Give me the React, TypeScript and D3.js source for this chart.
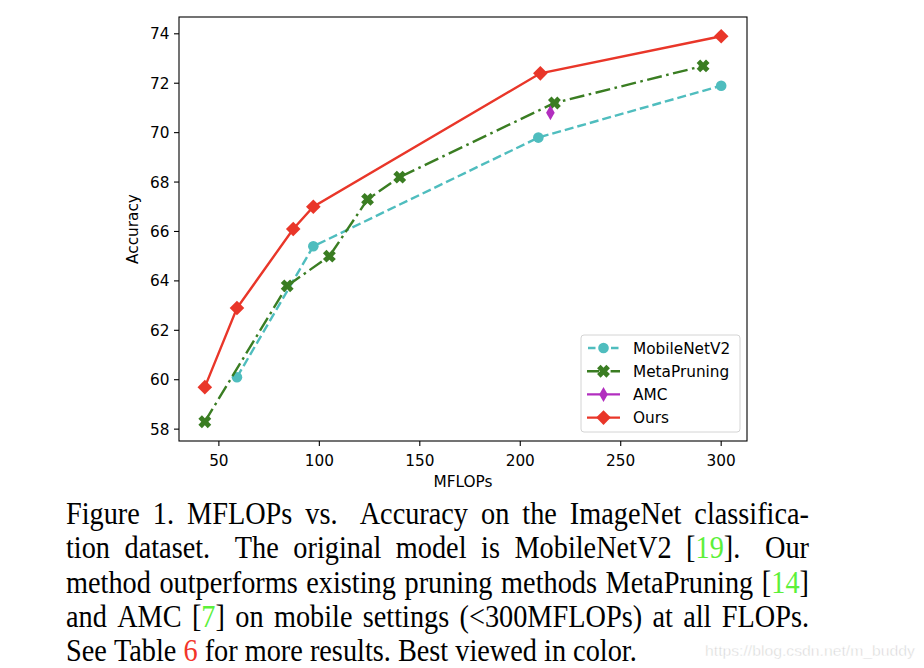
import React, { useLayoutEffect, useRef, useState } from "react";
import * as d3 from "d3";

// ---- data ----
const mobileX = [59, 97, 209, 300];
const mobileY = [60.1, 65.4, 69.8, 71.9];
const metaX = [43, 84, 105, 124, 140, 217, 291];
const metaY = [58.3, 63.8, 65.0, 67.3, 68.2, 71.2, 72.7];
const amcX = [215];
const amcY = [70.8];
const oursX = [43, 59, 87, 97, 210, 300];
const oursY = [59.7, 62.9, 66.1, 67.0, 72.4, 73.9];
const xTicks = [50, 100, 150, 200, 250, 300];
const yTicks = [58, 60, 62, 64, 66, 68, 70, 72, 74];
const seriesNames = ["MobileNetV2", "MetaPruning", "AMC", "Ours"];
const xLabel = "MFLOPs";
const yLabel = "Accuracy";
// {..} = green citation, |..| = red reference
const captionLines = [
  "Figure 1. MFLOPs vs.  Accuracy on the ImageNet classifica-",
  "tion dataset.  The original model is MobileNetV2 [{19}].  Our",
  "method outperforms existing pruning methods MetaPruning [{14}]",
  "and AMC [{7}] on mobile settings (<300MFLOPs) at all FLOPs.",
  "See Table |6| for more results. Best viewed in color.",
];
const watermark = "https://blog.csdn.net/m_buddy";

// ---- layout ----
const W = 924;
const H = 668;
const plot = { left: 179, right: 747, top: 17, bottom: 441 };
const colors = {
  mobile: "#4FBDBE",
  meta: "#3A7D22",
  amc: "#B22EBF",
  ours: "#E93629",
};
const tickFont = "DejaVu Sans, Verdana, sans-serif";
const tickSize = 15.3;
const capFont = "Liberation Serif, Times New Roman, serif";
const capLeft = 66;
const capRight = 809;
const capBase0 = 524;
const capStep = 34.3;
const capSize = 28.3;
const capStretch = 1.08;

function pad(ext: [number, number]): [number, number] {
  const r = ext[1] - ext[0];
  return [ext[0] - r * 0.05, ext[1] + r * 0.05];
}
const allX = [...mobileX, ...metaX, ...amcX, ...oursX];
const allY = [...mobileY, ...metaY, ...amcY, ...oursY];
const x = d3
  .scaleLinear()
  .domain(pad(d3.extent(allX) as [number, number]))
  .range([plot.left, plot.right]);
const y = d3
  .scaleLinear()
  .domain(pad(d3.extent(allY) as [number, number]))
  .range([plot.bottom, plot.top]);

function xMarker(cx: number, cy: number) {
  const a = 6.6;
  const w = 2.5;
  const pts: [number, number][] = [
    [-w, -a], [w, -a], [w, -w], [a, -w], [a, w], [w, w],
    [w, a], [-w, a], [-w, w], [-a, w], [-a, -w], [-w, -w],
  ];
  const c = Math.SQRT1_2;
  return (
    "M" +
    pts
      .map(([px, py]) => [cx + (px - py) * c, cy + (px + py) * c].map((v) => v.toFixed(2)).join(","))
      .join("L") +
    "Z"
  );
}
function diamond(cx: number, cy: number, hw: number, hh: number) {
  return `M${cx},${cy - hh}L${cx + hw},${cy}L${cx},${cy + hh}L${cx - hw},${cy}Z`;
}

type Seg = { t: string; c: string };
function parseWord(word: string): Seg[] {
  const segs: Seg[] = [];
  const re = /\{([^}]*)\}|\|([^|]*)\|/g;
  let last = 0;
  let m: RegExpExecArray | null;
  while ((m = re.exec(word))) {
    if (m.index > last) segs.push({ t: word.slice(last, m.index), c: "#000" });
    if (m[1] !== undefined) segs.push({ t: m[1], c: "#5CF03A" });
    else segs.push({ t: m[2], c: "#F2352A" });
    last = m.index + m[0].length;
  }
  if (last < word.length) segs.push({ t: word.slice(last), c: "#000" });
  return segs;
}

const parsedLines = captionLines.map((line) => {
  const words: Seg[][] = [];
  const gaps: number[] = [];
  const parts = line.split(/( +)/);
  parts.forEach((p) => {
    if (/^ +$/.test(p)) gaps.push(p.length > 1 ? 1.7 : 1);
    else if (p.length) words.push(parseWord(p));
  });
  return { words, gaps };
});

function Caption() {
  const refs = useRef<(SVGTextElement | null)[][]>([]);
  const [widths, setWidths] = useState<number[][] | null>(null);
  useLayoutEffect(() => {
    const measure = () => {
      const w = parsedLines.map((l, i) =>
        l.words.map((_, j) => {
          const el = refs.current[i]?.[j];
          return el ? el.getComputedTextLength() : 0;
        })
      );
      setWidths(w);
    };
    measure();
    if ((document as any).fonts?.ready) (document as any).fonts.ready.then(measure);
  }, []);
  return (
    <g fontFamily={capFont} fontSize={capSize}>
      {parsedLines.map((l, i) => {
        const last = i === parsedLines.length - 1;
        const ws = widths ? widths[i] : l.words.map((w) => w.map((s) => s.t).join("").length * 12);
        const total = ws.reduce((a, b) => a + b, 0);
        const gw = l.gaps.reduce((a, b) => a + b, 0);
        const unit = last ? capSize * 0.25 : (capRight - capLeft - total) / gw;
        let cx = capLeft;
        refs.current[i] = refs.current[i] || [];
        const base = capBase0 + i * capStep;
        return (
          <g key={i} transform={`translate(0, ${base}) scale(1, ${capStretch})`}>
            {l.words.map((w, j) => {
              const px = cx;
              cx += ws[j] + (j < l.gaps.length ? l.gaps[j] * unit : 0);
              return (
                <text
                  key={`${i}-${j}`}
                  ref={(el) => {
                    refs.current[i][j] = el;
                  }}
                  x={px}
                  y={0}
                  fill="#000"
                >
                  {w.map((s, k) => (
                    <tspan key={k} fill={s.c}>
                      {s.t}
                    </tspan>
                  ))}
                </text>
              );
            })}
          </g>
        );
      })}
    </g>
  );
}

export default function App() {
  const line = d3
    .line<[number, number]>()
    .x((d) => x(d[0]))
    .y((d) => y(d[1]));
  const mobilePts = mobileX.map((v, i) => [v, mobileY[i]] as [number, number]);
  const metaPts = metaX.map((v, i) => [v, metaY[i]] as [number, number]);
  const amcPts = amcX.map((v, i) => [v, amcY[i]] as [number, number]);
  const oursPts = oursX.map((v, i) => [v, oursY[i]] as [number, number]);

  const legendX0 = 587;
  const legendX1 = 620;
  const legendMid = (legendX0 + legendX1) / 2;
  const legendRows = [348, 371.2, 394.4, 417.6];

  const lw = 2.4;
  const dashMobile = "9,4";
  const dashMeta = "15,4.5,2.6,4.5";

  return (
    <svg
      width={W}
      height={H}
      style={{ position: "absolute", left: 0, top: 0, background: "#fff" }}
      xmlns="http://www.w3.org/2000/svg"
    >
      <rect x={0} y={0} width={W} height={H} fill="#fff" />
      <defs>
        <clipPath id="plotclip">
          <rect x={plot.left} y={plot.top} width={plot.right - plot.left} height={plot.bottom - plot.top} />
        </clipPath>
      </defs>
      <g clipPath="url(#plotclip)">
        <path d={line(mobilePts) || ""} fill="none" stroke={colors.mobile} strokeWidth={lw} strokeDasharray={dashMobile} />
        {mobilePts.map((d, i) => (
          <circle key={i} cx={x(d[0])} cy={y(d[1])} r={5.3} fill={colors.mobile} />
        ))}
        <path d={line(metaPts) || ""} fill="none" stroke={colors.meta} strokeWidth={lw} strokeDasharray={dashMeta} />
        {metaPts.map((d, i) => (
          <path key={i} d={xMarker(x(d[0]), y(d[1]))} fill={colors.meta} />
        ))}
        {amcPts.map((d, i) => (
          <path key={i} d={diamond(x(d[0]), y(d[1]), 4.3, 7.5)} fill={colors.amc} />
        ))}
        <path d={line(oursPts) || ""} fill="none" stroke={colors.ours} strokeWidth={lw} />
        {oursPts.map((d, i) => (
          <path key={i} d={diamond(x(d[0]), y(d[1]), 7.3, 7.3)} fill={colors.ours} />
        ))}
      </g>

      <rect
        x={plot.left}
        y={plot.top}
        width={plot.right - plot.left}
        height={plot.bottom - plot.top}
        fill="none"
        stroke="#000"
        strokeWidth={1.1}
      />
      <g fontFamily={tickFont} fontSize={tickSize} fill="#000">
        {xTicks.map((t) => (
          <g key={t}>
            <line x1={x(t)} x2={x(t)} y1={plot.bottom} y2={plot.bottom + 5} stroke="#000" strokeWidth={1.1} />
            <text x={x(t)} y={465.5} textAnchor="middle">
              {t}
            </text>
          </g>
        ))}
        {yTicks.map((t) => (
          <g key={t}>
            <line x1={plot.left - 5} x2={plot.left} y1={y(t)} y2={y(t)} stroke="#000" strokeWidth={1.1} />
            <text x={169.5} y={y(t) + 5.5} textAnchor="end">
              {t}
            </text>
          </g>
        ))}
        <text x={(plot.left + plot.right) / 2} y={486.5} textAnchor="middle">
          {xLabel}
        </text>
        <text transform={`translate(138, ${(plot.top + plot.bottom) / 2}) rotate(-90)`} textAnchor="middle">
          {yLabel}
        </text>
      </g>

      <g fontFamily={tickFont} fontSize={tickSize}>
        <rect x={581} y={335} width={159} height={97} rx={3} fill="#fff" fillOpacity={0.8} stroke="#d4d4d4" strokeWidth={1} />
        {seriesNames.map((name, i) => {
          const ly = legendRows[i];
          let handle: React.ReactNode = null;
          if (i === 0)
            handle = (
              <>
                <line x1={legendX0} x2={legendX1} y1={ly} y2={ly} stroke={colors.mobile} strokeWidth={lw} strokeDasharray="7.5,4" strokeDashoffset={-1} />
                <circle cx={legendMid} cy={ly} r={5.3} fill={colors.mobile} />
              </>
            );
          else if (i === 1)
            handle = (
              <>
                <line x1={legendX0} x2={legendX1} y1={ly} y2={ly} stroke={colors.meta} strokeWidth={lw} strokeDasharray="12,4.5,2.6,4.5" />
                <path d={xMarker(legendMid, ly)} fill={colors.meta} />
              </>
            );
          else if (i === 2)
            handle = (
              <>
                <line x1={legendX0} x2={legendX1} y1={ly} y2={ly} stroke={colors.amc} strokeWidth={lw} />
                <path d={diamond(legendMid, ly, 4.3, 7.5)} fill={colors.amc} />
              </>
            );
          else
            handle = (
              <>
                <line x1={legendX0} x2={legendX1} y1={ly} y2={ly} stroke={colors.ours} strokeWidth={lw} />
                <path d={diamond(legendMid, ly, 7.3, 7.3)} fill={colors.ours} />
              </>
            );
          return (
            <g key={name}>
              {handle}
              <text x={633} y={ly + 5.5} fill="#000">
                {name}
              </text>
            </g>
          );
        })}
      </g>

      <Caption />

      <text
        x={705}
        y={656}
        fontFamily="Liberation Sans, Arial, sans-serif"
        fontSize={15}
        fill="#d2d2d2"
        stroke="#fff"
        strokeWidth={0.5}
        textLength={210}
        lengthAdjust="spacingAndGlyphs"
      >
        {watermark}
      </text>
    </svg>
  );
}
